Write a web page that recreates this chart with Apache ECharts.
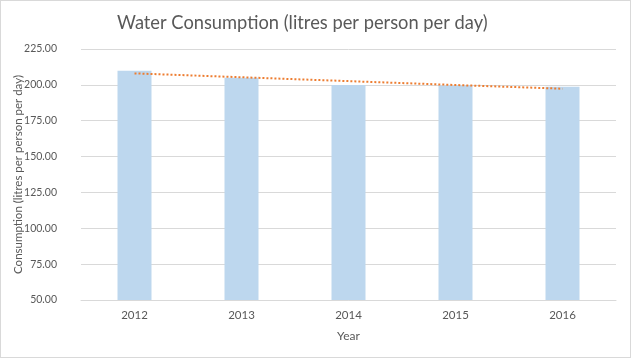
<!DOCTYPE html>
<html><head><meta charset="utf-8">
<script src="https://cdn.jsdelivr.net/npm/echarts@6/dist/echarts.min.js"></script>
<style>
html,body{margin:0;padding:0;background:#fff;}
#wrap{position:absolute;left:0;top:0;width:629px;height:356px;border:1px solid #D9D9D9;}
#c{width:633px;height:359px;position:absolute;left:0;top:0;}
</style></head>
<body><div id="wrap"></div><div id="c"></div>
<script>
const years = ['2012','2013','2014','2015','2016'];
const consumption = [209.9, 205.0, 199.9, 199.6, 198.7];
const trend = [208.0, 205.3, 202.6, 199.9, 197.3];
const yTicks = [50, 75, 100, 125, 150, 175, 200, 225];
const titleText = 'Water Consumption (litres per person per day)';
const yName = 'Consumption (litres per person per day)';
const xName = 'Year';

const chart = echarts.init(document.getElementById('c'));
const font = 'Lato, "Open Sans", sans-serif';
chart.setOption({
  animation: false,
  title: {text: titleText, left: 112, top: 9,
    textStyle: {fontFamily: font, fontSize: 18.3, fontWeight: 'normal', color: '#595959'}},
  grid: {left: 81, right: 17, top: 49, bottom: 59, containLabel: false, outerBoundsMode: 'none'},
  xAxis: {type: 'category', data: years, name: xName, nameLocation: 'middle', nameGap: 30,
    nameMoveOverlap: false,
    nameTextStyle: {fontFamily: font, fontSize: 12, color: '#595959'},
    axisLine: {lineStyle: {color: '#D9D9D9', width: 1}}, axisTick: {show: false},
    axisLabel: {fontFamily: font, fontSize: 11.5, color: '#595959', margin: 9}},
  yAxis: {type: 'value', min: yTicks[0], max: yTicks[yTicks.length-1], interval: 25,
    name: yName, nameLocation: 'middle', nameGap: 57, nameMoveOverlap: false,
    nameTextStyle: {fontFamily: font, fontSize: 11.5, color: '#595959'},
    axisLine: {show: false}, axisTick: {show: false},
    axisLabel: {fontFamily: font, fontSize: 10.5, color: '#595959', margin: 24,
      formatter: v => v.toFixed(2)},
    splitLine: {lineStyle: {color: '#D9D9D9', width: 1}}},
  series: [
    {type: 'bar', data: consumption, barWidth: 34, itemStyle: {color: '#BDD7EE'}},
    {type: 'line', data: trend, symbol: 'none', z: 5,
      lineStyle: {color: '#ED7D31', width: 2, type: [2, 2]}}
  ]
});
</script></body></html>
